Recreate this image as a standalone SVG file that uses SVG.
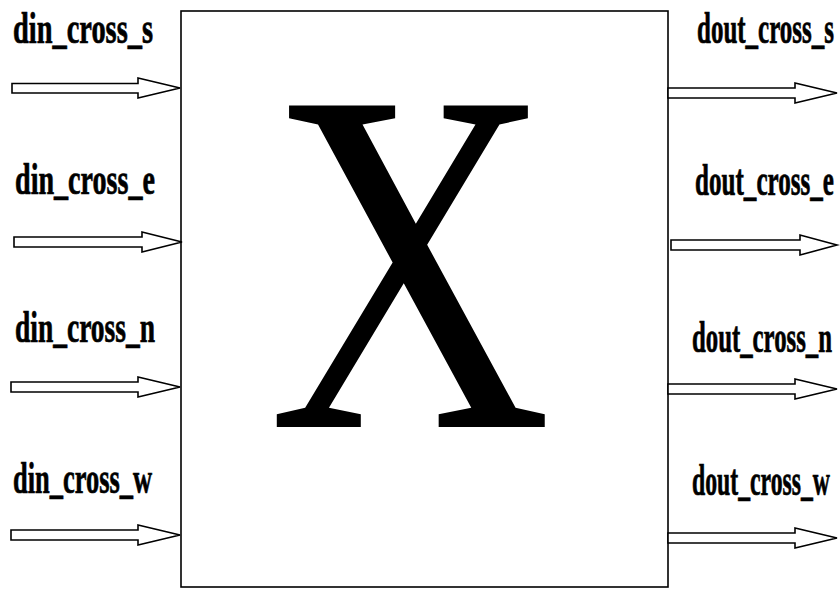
<svg xmlns="http://www.w3.org/2000/svg" width="840" height="590" viewBox="0 0 840 590">
<style>
.lbl{font-family:"Liberation Serif","Times New Roman",serif;font-weight:bold;font-size:44px;fill:#000;stroke:#000;stroke-width:0.7}
.arr{fill:#fff;stroke:#000;stroke-width:1.6;stroke-linejoin:miter}
.box{fill:#fff;stroke:#000;stroke-width:1.6}
</style>
<rect width="840" height="590" fill="#fff"/>
<g id="crossbar">
<rect class="box" x="181" y="11" width="487" height="576"/>
<text transform="translate(410,427) scale(0.8,1)" text-anchor="middle" font-family="Liberation Serif,Times New Roman,serif" font-size="491" fill="#000">X</text>
</g>
<g id="labels">
<text class="lbl" x="13" y="43" textLength="140" lengthAdjust="spacingAndGlyphs">din_cross_s</text>
<text class="lbl" x="15" y="194" textLength="140" lengthAdjust="spacingAndGlyphs">din_cross_e</text>
<text class="lbl" x="15" y="342" textLength="140" lengthAdjust="spacingAndGlyphs">din_cross_n</text>
<text class="lbl" x="13" y="493" textLength="139" lengthAdjust="spacingAndGlyphs">din_cross_w</text>
<text class="lbl" x="697" y="43" textLength="137" lengthAdjust="spacingAndGlyphs">dout_cross_s</text>
<text class="lbl" x="695" y="195" textLength="139" lengthAdjust="spacingAndGlyphs">dout_cross_e</text>
<text class="lbl" x="692" y="352" textLength="140" lengthAdjust="spacingAndGlyphs">dout_cross_n</text>
<text class="lbl" x="692" y="495" textLength="138" lengthAdjust="spacingAndGlyphs">dout_cross_w</text>
</g>
<g id="connectors">
<polygon class="arr" points="12,83.5 138,83.5 138,78 180,88 138,98 138,93 12,93"/>
<polygon class="arr" points="14,237 142,237 142,232 182,242 142,252 142,247 14,247"/>
<polygon class="arr" points="11,382 138,382 138,377 180,387 138,397 138,392 11,392"/>
<polygon class="arr" points="11,530 138,530 138,525 180,535 138,545 138,540 11,540"/>
<polygon class="arr" points="668,88 795,88 795,83 837,93 795,103 795,98 668,98"/>
<polygon class="arr" points="671,240 800,240 800,235 837,245 800,255 800,250 671,250"/>
<polygon class="arr" points="668,384 795,384 795,379 837,389 795,399 795,394 668,394"/>
<polygon class="arr" points="668,533 795,533 795,528 837,538 795,548 795,543 668,543"/>
</g>
</svg>
